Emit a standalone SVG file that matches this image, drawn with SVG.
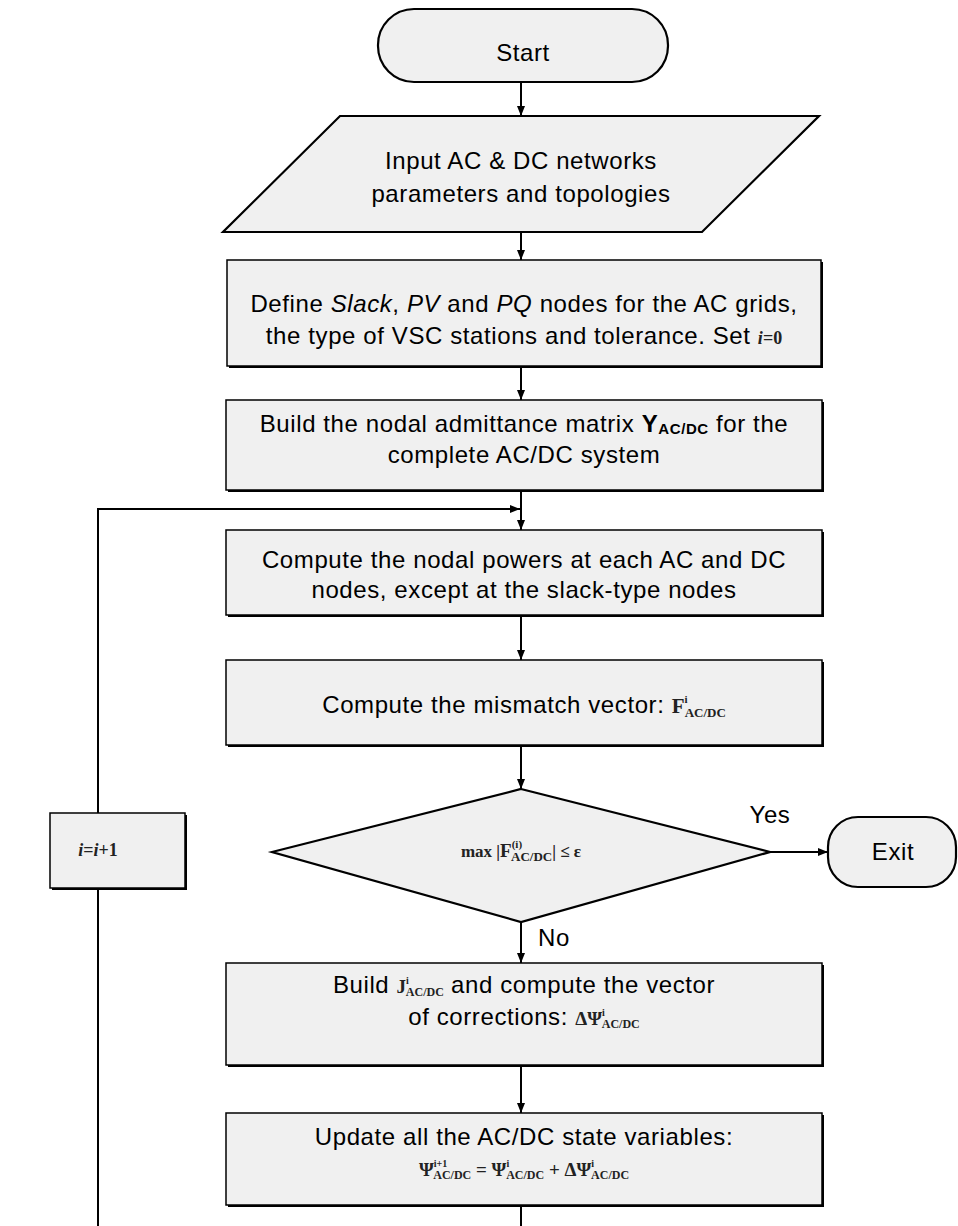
<svg xmlns="http://www.w3.org/2000/svg" width="958" height="1226" viewBox="0 0 958 1226">
<defs>
<marker id="ah" viewBox="0 0 10 10" refX="10" refY="5" markerWidth="10" markerHeight="10" markerUnits="userSpaceOnUse" orient="auto"><path d="M0,1 L10,5 L0,9 z" fill="#000"/></marker>
</defs>
<style>
.box{fill:#f0f0f0;stroke:#000;stroke-width:1.5}
.sh{fill:#000}
.shape{fill:#f0f0f0;stroke:#000;stroke-width:2.2}
.t{font-family:"Liberation Sans",Arial,sans-serif;font-size:24px;letter-spacing:0.6px;fill:#000;text-anchor:middle}
.m{font-family:"Liberation Serif","Times New Roman",serif;fill:#222;font-weight:bold;letter-spacing:0}
.c{fill:none;stroke:#000;stroke-width:2}
</style>

<g id="start">
<rect class="shape" x="378" y="9" width="290" height="73" rx="36" ry="36"/>
<text class="t" x="523" y="61">Start</text>
</g>

<g id="input">
<polygon class="shape" points="340,116 819,116 702,232 223,232"/>
<text class="t" x="521" y="169">Input AC &amp; DC networks</text>
<text class="t" x="521" y="202">parameters and topologies</text>
</g>

<g id="define">
<rect class="sh" x="229" y="262" width="594" height="106"/>
<rect class="box" x="227" y="260" width="594" height="106"/>
<text class="t" x="524" y="312">Define <tspan font-style="italic">Slack</tspan>, <tspan font-style="italic">PV</tspan> and <tspan font-style="italic">PQ</tspan> nodes for the AC grids,</text>
<text class="t" x="524" y="344">the type of VSC stations and tolerance. Set <tspan class="m" font-style="italic" font-weight="normal" font-size="18">i</tspan><tspan class="m" font-weight="normal" font-size="18">=0</tspan></text>
</g>

<g id="build">
<rect class="sh" x="228" y="402" width="596" height="90"/>
<rect class="box" x="226" y="400" width="596" height="90"/>
<text class="t" x="524" y="432">Build the nodal admittance matrix <tspan font-weight="bold">Y</tspan><tspan font-weight="bold" font-size="15" dy="2">AC/DC</tspan><tspan dy="-2"> for the</tspan></text>
<text class="t" x="524" y="463">complete AC/DC system</text>
</g>

<g id="nodal">
<rect class="sh" x="228" y="532" width="596" height="85"/>
<rect class="box" x="226" y="530" width="596" height="85"/>
<text class="t" x="524" y="568">Compute the nodal powers at each AC and DC</text>
<text class="t" x="524" y="598">nodes, except at the slack-type nodes</text>
</g>

<g id="mismatch">
<rect class="sh" x="228" y="662" width="596" height="85"/>
<rect class="box" x="226" y="660" width="596" height="85"/>
<text class="t" x="524" y="713">Compute the mismatch vector:  <tspan class="m" font-size="21">F</tspan><tspan class="m" font-size="11" dy="-10">i</tspan><tspan class="m" font-size="13" dx="-3" dy="14">AC/DC</tspan></text>
</g>

<g id="decision">
<polygon class="shape" points="521,789 770,852 521,922 272,852"/>
<text class="m" x="521" y="857" font-size="17" text-anchor="middle" font-weight="normal">max |<tspan font-weight="bold" font-size="19">F</tspan><tspan font-size="11" dy="-9">(i)</tspan><tspan font-size="13" dx="-11" dy="13">AC/DC</tspan><tspan dy="-4">| ≤ ε</tspan></text>
</g>

<g id="exit">
<rect class="shape" x="828" y="817" width="128" height="70" rx="30" ry="30"/>
<text class="t" x="893" y="860">Exit</text>
</g>

<g id="increment">
<rect class="sh" x="52" y="815" width="135" height="75"/>
<rect class="box" x="50" y="813" width="135" height="75"/>
<text class="m" x="98" y="856" font-size="18" text-anchor="middle" font-weight="normal"><tspan font-style="italic">i</tspan>=<tspan font-style="italic">i</tspan>+1</text>
</g>

<g id="jacobian">
<rect class="sh" x="228" y="965" width="596" height="102"/>
<rect class="box" x="226" y="963" width="596" height="102"/>
<text class="t" x="524" y="993">Build  <tspan class="m" font-size="19">J</tspan><tspan class="m" font-size="10" dy="-9">i</tspan><tspan class="m" font-size="12" dx="-3" dy="12">AC/DC</tspan><tspan dy="-3">  and compute the vector</tspan></text>
<text class="t" x="524" y="1025">of corrections:  <tspan class="m" font-size="19">ΔΨ</tspan><tspan class="m" font-size="10" dy="-9">i</tspan><tspan class="m" font-size="12" dx="-3" dy="12">AC/DC</tspan></text>
</g>

<g id="update">
<rect class="sh" x="228" y="1115" width="596" height="92"/>
<rect class="box" x="226" y="1113" width="596" height="92"/>
<text class="t" x="524" y="1145">Update all the AC/DC state variables:</text>
<text class="m" x="524" y="1176" font-size="19" text-anchor="middle">Ψ<tspan font-size="10" dy="-9">i+1</tspan><tspan font-size="12" dx="-14" dy="12">AC/DC</tspan><tspan dy="-3"> = Ψ</tspan><tspan font-size="10" dy="-9">i</tspan><tspan font-size="12" dx="-3" dy="12">AC/DC</tspan><tspan dy="-3"> + ΔΨ</tspan><tspan font-size="10" dy="-9">i</tspan><tspan font-size="12" dx="-3" dy="12">AC/DC</tspan></text>
</g>

<g id="connectors">
<line class="c" x1="521" y1="82" x2="521" y2="116" marker-end="url(#ah)"/>
<line class="c" x1="521" y1="232" x2="521" y2="260" marker-end="url(#ah)"/>
<line class="c" x1="521" y1="366" x2="521" y2="400" marker-end="url(#ah)"/>
<line class="c" x1="521" y1="490" x2="521" y2="530" marker-end="url(#ah)"/>
<path class="c" d="M98,813 V509 H520" marker-end="url(#ah)"/>
<line class="c" x1="98" y1="888" x2="98" y2="1226"/>
<line class="c" x1="521" y1="615" x2="521" y2="660" marker-end="url(#ah)"/>
<line class="c" x1="521" y1="745" x2="521" y2="789" marker-end="url(#ah)"/>
<line class="c" x1="770" y1="852" x2="828" y2="852" marker-end="url(#ah)"/>
<line class="c" x1="521" y1="922" x2="521" y2="963" marker-end="url(#ah)"/>
<line class="c" x1="521" y1="1065" x2="521" y2="1113" marker-end="url(#ah)"/>
<line class="c" x1="521" y1="1205" x2="521" y2="1226"/>
<text class="t" x="770" y="823">Yes</text>
<text class="t" x="554" y="946">No</text>
</g>
</svg>
